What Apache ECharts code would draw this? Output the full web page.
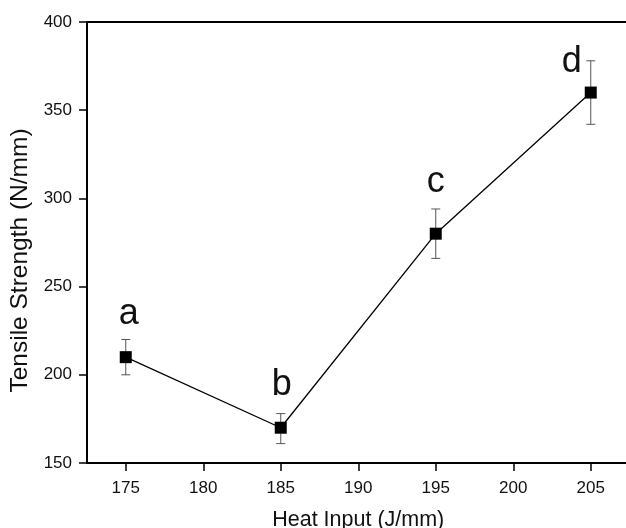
<!DOCTYPE html>
<html>
<head>
<meta charset="utf-8">
<script src="https://cdn.jsdelivr.net/npm/echarts@6/dist/echarts.min.js"></script>
<style>
  html, body { margin: 0; padding: 0; background: #fff; }
  #chart { width: 626px; height: 528px; }
</style>
</head>
<body>
<div id="chart"></div>
<script>
// heat input vs tensile strength
const heatInput = [175, 185, 195, 205];
const tensileStrength = [210, 170, 280, 360];
const errorLow = [200, 161, 266, 342];
const errorHigh = [220, 178, 294, 378];
const pointLabels = ['a', 'b', 'c', 'd'];
const xTickValues = [175, 180, 185, 190, 195, 200, 205];

const FONT = '"Liberation Sans", Arial, sans-serif';

// letter label nudges (style only)
const labelOffsets = [[3, 0], [1, 0], [0, -9], [-19, 13]];

const myChart = echarts.init(document.getElementById('chart'));

const lineData = heatInput.map((x, i) => ({
  value: [x, tensileStrength[i]],
  label: { offset: labelOffsets[i] }
}));

const errData = heatInput.map((x, i) => [x, errorLow[i], errorHigh[i]]);

const option = {
  animation: false,
  backgroundColor: '#fff',
  grid: {
    left: 87,
    top: 22,
    bottom: 65,
    width: 542.5,
    outerBoundsMode: 'none'
  },
  xAxis: [
    {
      type: 'value',
      min: 172.5,
      max: 207.5,
      name: 'Heat Input (J/mm)',
      nameLocation: 'middle',
      nameGap: 46,
      nameTextStyle: { fontFamily: FONT, fontSize: 21.5, color: '#111' },
      axisLine: { show: true, onZero: false, lineStyle: { color: '#000', width: 2 } },
      axisTick: { show: true, length: 8, lineStyle: { color: '#000', width: 1.5 }, customValues: xTickValues },
      axisLabel: { fontFamily: FONT, fontSize: 17, color: '#111', margin: 17, customValues: xTickValues },
      splitLine: { show: false }
    },
    {
      type: 'value',
      position: 'top',
      min: 172.5,
      max: 207.5,
      axisLine: { show: true, onZero: false, lineStyle: { color: '#000', width: 2 } },
      axisTick: { show: false },
      axisLabel: { show: false },
      splitLine: { show: false }
    }
  ],
  yAxis: {
    type: 'value',
    min: 150,
    max: 400,
    interval: 50,
    name: 'Tensile Strength (N/mm)',
    nameLocation: 'middle',
    nameGap: 53,
    nameTextStyle: { fontFamily: FONT, fontSize: 24.5, color: '#111', padding: [0, 36, 0, 0] },
    axisLine: { show: true, lineStyle: { color: '#000', width: 2 } },
    axisTick: { show: true, length: 8, lineStyle: { color: '#000', width: 1.5 } },
    axisLabel: { fontFamily: FONT, fontSize: 17, color: '#111', margin: 15 },
    splitLine: { show: false }
  },
  series: [
    {
      type: 'custom',
      z: 1,
      data: errData,
      encode: { x: 0, y: [1, 2] },
      renderItem: function (params, api) {
        const x = api.value(0);
        const lo = api.coord([x, api.value(1)]);
        const hi = api.coord([x, api.value(2)]);
        const cap = 4.5;
        const style = { stroke: '#555', lineWidth: 1 };
        return {
          type: 'group',
          children: [
            { type: 'line', shape: { x1: lo[0], y1: lo[1], x2: hi[0], y2: hi[1] }, style: style },
            { type: 'line', shape: { x1: lo[0] - cap, y1: lo[1], x2: lo[0] + cap, y2: lo[1] }, style: style },
            { type: 'line', shape: { x1: hi[0] - cap, y1: hi[1], x2: hi[0] + cap, y2: hi[1] }, style: style }
          ]
        };
      }
    },
    {
      type: 'line',
      z: 3,
      data: lineData,
      symbol: 'rect',
      symbolSize: 12,
      itemStyle: { color: '#000' },
      lineStyle: { color: '#000', width: 1.3 },
      label: {
        show: true,
        position: 'top',
        distance: 19,
        fontFamily: FONT,
        fontSize: 36,
        color: '#111',
        formatter: (p) => pointLabels[p.dataIndex]
      }
    }
  ]
};

myChart.setOption(option);
</script>
</body>
</html>
